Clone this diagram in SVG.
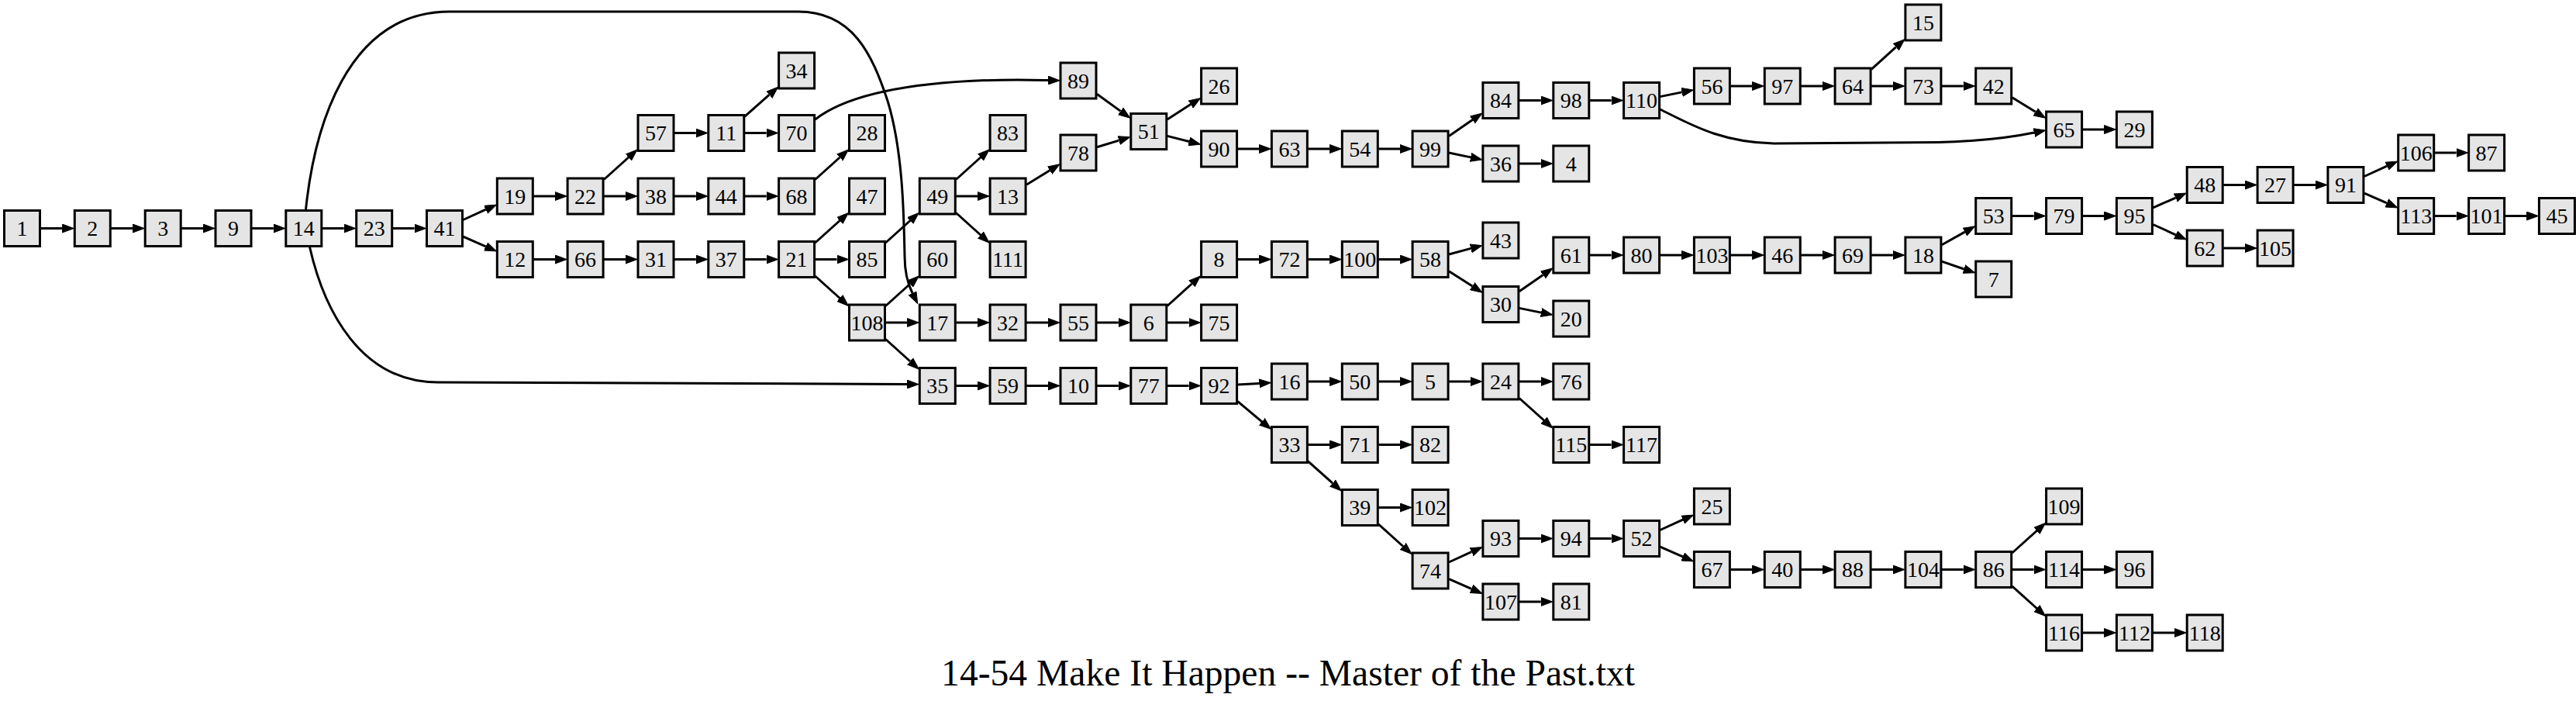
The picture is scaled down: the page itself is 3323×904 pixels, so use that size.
<svg xmlns="http://www.w3.org/2000/svg" width="3323" height="904" viewBox="0 0 3323 904">
<style>
.n rect{fill:#e5e5e5;stroke:#000;stroke-width:3}
.n text{font-family:"Liberation Serif","Times New Roman",serif;font-size:28px;text-anchor:middle;fill:#000}
#edges path{fill:none;stroke:#000;stroke-width:3;marker-end:url(#ah)}
.title{font-family:"Liberation Serif","Times New Roman",serif;font-size:47.6px;text-anchor:middle;fill:#000}
</style>
<defs>
<marker id="ah" viewBox="0 0 16 12" markerWidth="16" markerHeight="12" refX="0" refY="6" orient="auto" markerUnits="userSpaceOnUse"><path d="M0,0.5 L15,6 L0,11.5 z" fill="#000" stroke="#000" stroke-width="1"/></marker>
</defs>
<rect width="3323" height="904" fill="#fff"/>
<g id="edges">
<path d="M52.5,294.5 L80.3,294.5"/>
<path d="M143.3,294.5 L171.2,294.5"/>
<path d="M234.2,294.5 L262,294.5"/>
<path d="M325,294.5 L352.8,294.5"/>
<path d="M415.8,294.5 L443.7,294.5"/>
<path d="M506.7,294.5 L534.5,294.5"/>
<path d="M394.5,270 C405,170 445,15 580,15 L1030,15 C1100,15 1125,70 1145,130 C1165,195 1166,280 1167,330 C1167,350 1170,364 1177,378"/>
<path d="M399.5,318.5 C418,400 465,493 565,493 L1170,495.5"/>
<path d="M597.5,283.5 L626.7,270.2"/>
<path d="M597.5,305.1 L626.6,317.9"/>
<path d="M688.3,253 L716.1,253"/>
<path d="M779.1,231.5 L810.8,203"/>
<path d="M779.1,253 L807,253"/>
<path d="M870,171.5 L897.8,171.5"/>
<path d="M960.8,150.2 L992.4,122.2"/>
<path d="M960.8,171.5 L988.6,171.5"/>
<path d="M1051.6,154 C1085,128 1150,110 1250,104.5 C1300,102 1330,103 1352,103.5"/>
<path d="M870,253 L897.8,253"/>
<path d="M960.8,253 L988.6,253"/>
<path d="M1051.6,231.5 L1083.3,203"/>
<path d="M688.3,334.5 L716.1,334.5"/>
<path d="M779.1,334.5 L807,334.5"/>
<path d="M870,334.5 L897.8,334.5"/>
<path d="M960.8,334.5 L988.6,334.5"/>
<path d="M1051.6,313 L1083.3,284.5"/>
<path d="M1051.6,334.5 L1079.5,334.5"/>
<path d="M1051.6,356 L1083.3,384.5"/>
<path d="M1142.5,313 L1174.1,284.5"/>
<path d="M1233.3,231.5 L1264.9,203"/>
<path d="M1233.3,253 L1261.1,253"/>
<path d="M1233.3,274.5 L1264.9,303"/>
<path d="M1324.1,238.2 L1354.2,219.7"/>
<path d="M1415,189.7 L1443.4,181.1"/>
<path d="M1415,121.3 L1445.6,143.4"/>
<path d="M1505.8,154 L1536,134.6"/>
<path d="M1505.8,175.4 L1534,182.5"/>
<path d="M1596.6,192 L1624.4,192"/>
<path d="M1687.4,192 L1715.3,192"/>
<path d="M1778.3,192 L1806.1,192"/>
<path d="M1869.1,175.5 L1899.5,154.5"/>
<path d="M1869.1,197 L1897.2,202.9"/>
<path d="M1959.9,211 L1987.8,211"/>
<path d="M1959.9,129.5 L1987.8,129.5"/>
<path d="M2050.8,129.5 L2078.6,129.5"/>
<path d="M2141.6,124.6 L2169.7,118.9"/>
<path d="M2141.6,141 C2180,160 2220,184 2290,185 L2500,183.5 C2560,182 2600,176 2624,171"/>
<path d="M2232.4,111 L2260.3,111"/>
<path d="M2323.3,111 L2351.1,111"/>
<path d="M2414.1,89.3 L2445.8,60.7"/>
<path d="M2414.1,111 L2441.9,111"/>
<path d="M2504.9,111 L2532.7,111"/>
<path d="M2595.7,125.8 L2625.8,144.3"/>
<path d="M2686.6,167 L2714.4,167"/>
<path d="M1142.5,394.5 L1174.1,366"/>
<path d="M1142.5,416 L1170.3,416"/>
<path d="M1142.5,437.5 L1174.1,466"/>
<path d="M1233.3,416 L1261.1,416"/>
<path d="M1324.1,416 L1352,416"/>
<path d="M1415,416 L1442.8,416"/>
<path d="M1505.8,394.5 L1537.4,366"/>
<path d="M1505.8,416 L1533.6,416"/>
<path d="M1596.6,334.5 L1624.4,334.5"/>
<path d="M1687.4,334.5 L1715.3,334.5"/>
<path d="M1778.3,334.5 L1806.1,334.5"/>
<path d="M1869.1,328 L1897.4,320.4"/>
<path d="M1869.1,349.8 L1899.3,369.1"/>
<path d="M1959.9,375.7 L1990.5,354.4"/>
<path d="M1959.9,397.4 L1988.1,403.1"/>
<path d="M2050.8,329 L2078.6,329"/>
<path d="M2141.6,329 L2169.4,329"/>
<path d="M2232.4,329 L2260.3,329"/>
<path d="M2323.3,329 L2351.1,329"/>
<path d="M2414.1,329 L2441.9,329"/>
<path d="M2504.9,315.7 L2534.6,299.1"/>
<path d="M2504.9,337.2 L2533.5,347"/>
<path d="M2595.7,278.5 L2623.6,278.5"/>
<path d="M2686.6,278.5 L2714.4,278.5"/>
<path d="M2777.4,267.9 L2806.5,255.1"/>
<path d="M2777.4,289.5 L2806.6,302.8"/>
<path d="M2868.2,238.5 L2896.1,238.5"/>
<path d="M2959.1,238.5 L2986.9,238.5"/>
<path d="M3049.9,227.5 L3079.1,214.2"/>
<path d="M3049.9,249.1 L3079,261.9"/>
<path d="M3140.7,197 L3168.6,197"/>
<path d="M3140.7,278.5 L3168.6,278.5"/>
<path d="M3231.6,278.5 L3259.4,278.5"/>
<path d="M2868.2,320 L2896.1,320"/>
<path d="M1233.3,497.5 L1261.1,497.5"/>
<path d="M1324.1,497.5 L1352,497.5"/>
<path d="M1415,497.5 L1442.8,497.5"/>
<path d="M1505.8,497.5 L1533.6,497.5"/>
<path d="M1596.6,496.1 L1624.4,494.4"/>
<path d="M1596.6,517.6 L1627.9,543.8"/>
<path d="M1687.4,492 L1715.3,492"/>
<path d="M1778.3,492 L1806.1,492"/>
<path d="M1869.1,492 L1896.9,492"/>
<path d="M1959.9,492 L1987.8,492"/>
<path d="M1959.9,513.5 L1991.6,542"/>
<path d="M2050.8,573.5 L2078.6,573.5"/>
<path d="M1687.4,573.5 L1715.3,573.5"/>
<path d="M1778.3,573.5 L1806.1,573.5"/>
<path d="M1687.4,594.9 L1719.1,623.1"/>
<path d="M1778.3,654.5 L1806.1,654.5"/>
<path d="M1778.3,676 L1809.9,704.5"/>
<path d="M1869.1,725 L1898.3,711.7"/>
<path d="M1869.1,746.6 L1898.2,759.4"/>
<path d="M1959.9,694.5 L1987.8,694.5"/>
<path d="M2050.8,694.5 L2078.6,694.5"/>
<path d="M2141.6,683.5 L2170.8,670.2"/>
<path d="M2141.6,705.1 L2170.7,717.9"/>
<path d="M1959.9,776 L1987.8,776"/>
<path d="M2232.4,734.5 L2260.3,734.5"/>
<path d="M2323.3,734.5 L2351.1,734.5"/>
<path d="M2414.1,734.5 L2441.9,734.5"/>
<path d="M2504.9,734.5 L2532.7,734.5"/>
<path d="M2595.7,713 L2627.4,684.5"/>
<path d="M2595.7,734.5 L2623.6,734.5"/>
<path d="M2595.7,756 L2627.4,784.5"/>
<path d="M2686.6,734.5 L2714.4,734.5"/>
<path d="M2686.6,816 L2714.4,816"/>
<path d="M2777.4,816 L2805.2,816"/>
</g>
<g id="n1" class="n" transform="translate(28.5,294.5)"><rect x="-23" y="-23" width="46" height="46"/><text y="9.5">1</text></g>
<g id="n2" class="n" transform="translate(119.3,294.5)"><rect x="-23" y="-23" width="46" height="46"/><text y="9.5">2</text></g>
<g id="n3" class="n" transform="translate(210.2,294.5)"><rect x="-23" y="-23" width="46" height="46"/><text y="9.5">3</text></g>
<g id="n9" class="n" transform="translate(301,294.5)"><rect x="-23" y="-23" width="46" height="46"/><text y="9.5">9</text></g>
<g id="n14" class="n" transform="translate(391.8,294.5)"><rect x="-23" y="-23" width="46" height="46"/><text y="9.5">14</text></g>
<g id="n23" class="n" transform="translate(482.7,294.5)"><rect x="-23" y="-23" width="46" height="46"/><text y="9.5">23</text></g>
<g id="n41" class="n" transform="translate(573.5,294.5)"><rect x="-23" y="-23" width="46" height="46"/><text y="9.5">41</text></g>
<g id="n19" class="n" transform="translate(664.3,253)"><rect x="-23" y="-23" width="46" height="46"/><text y="9.5">19</text></g>
<g id="n12" class="n" transform="translate(664.3,334.5)"><rect x="-23" y="-23" width="46" height="46"/><text y="9.5">12</text></g>
<g id="n22" class="n" transform="translate(755.1,253)"><rect x="-23" y="-23" width="46" height="46"/><text y="9.5">22</text></g>
<g id="n66" class="n" transform="translate(755.1,334.5)"><rect x="-23" y="-23" width="46" height="46"/><text y="9.5">66</text></g>
<g id="n57" class="n" transform="translate(846,171.5)"><rect x="-23" y="-23" width="46" height="46"/><text y="9.5">57</text></g>
<g id="n38" class="n" transform="translate(846,253)"><rect x="-23" y="-23" width="46" height="46"/><text y="9.5">38</text></g>
<g id="n31" class="n" transform="translate(846,334.5)"><rect x="-23" y="-23" width="46" height="46"/><text y="9.5">31</text></g>
<g id="n11" class="n" transform="translate(936.8,171.5)"><rect x="-23" y="-23" width="46" height="46"/><text y="9.5">11</text></g>
<g id="n44" class="n" transform="translate(936.8,253)"><rect x="-23" y="-23" width="46" height="46"/><text y="9.5">44</text></g>
<g id="n37" class="n" transform="translate(936.8,334.5)"><rect x="-23" y="-23" width="46" height="46"/><text y="9.5">37</text></g>
<g id="n34" class="n" transform="translate(1027.6,91)"><rect x="-23" y="-23" width="46" height="46"/><text y="9.5">34</text></g>
<g id="n70" class="n" transform="translate(1027.6,171.5)"><rect x="-23" y="-23" width="46" height="46"/><text y="9.5">70</text></g>
<g id="n68" class="n" transform="translate(1027.6,253)"><rect x="-23" y="-23" width="46" height="46"/><text y="9.5">68</text></g>
<g id="n21" class="n" transform="translate(1027.6,334.5)"><rect x="-23" y="-23" width="46" height="46"/><text y="9.5">21</text></g>
<g id="n28" class="n" transform="translate(1118.5,171.5)"><rect x="-23" y="-23" width="46" height="46"/><text y="9.5">28</text></g>
<g id="n47" class="n" transform="translate(1118.5,253)"><rect x="-23" y="-23" width="46" height="46"/><text y="9.5">47</text></g>
<g id="n85" class="n" transform="translate(1118.5,334.5)"><rect x="-23" y="-23" width="46" height="46"/><text y="9.5">85</text></g>
<g id="n108" class="n" transform="translate(1118.5,416)"><rect x="-23" y="-23" width="46" height="46"/><text y="9.5">108</text></g>
<g id="n49" class="n" transform="translate(1209.3,253)"><rect x="-23" y="-23" width="46" height="46"/><text y="9.5">49</text></g>
<g id="n60" class="n" transform="translate(1209.3,334.5)"><rect x="-23" y="-23" width="46" height="46"/><text y="9.5">60</text></g>
<g id="n17" class="n" transform="translate(1209.3,416)"><rect x="-23" y="-23" width="46" height="46"/><text y="9.5">17</text></g>
<g id="n35" class="n" transform="translate(1209.3,497.5)"><rect x="-23" y="-23" width="46" height="46"/><text y="9.5">35</text></g>
<g id="n83" class="n" transform="translate(1300.1,171.5)"><rect x="-23" y="-23" width="46" height="46"/><text y="9.5">83</text></g>
<g id="n13" class="n" transform="translate(1300.1,253)"><rect x="-23" y="-23" width="46" height="46"/><text y="9.5">13</text></g>
<g id="n111" class="n" transform="translate(1300.1,334.5)"><rect x="-23" y="-23" width="46" height="46"/><text y="9.5">111</text></g>
<g id="n32" class="n" transform="translate(1300.1,416)"><rect x="-23" y="-23" width="46" height="46"/><text y="9.5">32</text></g>
<g id="n59" class="n" transform="translate(1300.1,497.5)"><rect x="-23" y="-23" width="46" height="46"/><text y="9.5">59</text></g>
<g id="n89" class="n" transform="translate(1391,104)"><rect x="-23" y="-23" width="46" height="46"/><text y="9.5">89</text></g>
<g id="n78" class="n" transform="translate(1391,197)"><rect x="-23" y="-23" width="46" height="46"/><text y="9.5">78</text></g>
<g id="n55" class="n" transform="translate(1391,416)"><rect x="-23" y="-23" width="46" height="46"/><text y="9.5">55</text></g>
<g id="n10" class="n" transform="translate(1391,497.5)"><rect x="-23" y="-23" width="46" height="46"/><text y="9.5">10</text></g>
<g id="n51" class="n" transform="translate(1481.8,169.5)"><rect x="-23" y="-23" width="46" height="46"/><text y="9.5">51</text></g>
<g id="n6" class="n" transform="translate(1481.8,416)"><rect x="-23" y="-23" width="46" height="46"/><text y="9.5">6</text></g>
<g id="n77" class="n" transform="translate(1481.8,497.5)"><rect x="-23" y="-23" width="46" height="46"/><text y="9.5">77</text></g>
<g id="n26" class="n" transform="translate(1572.6,111)"><rect x="-23" y="-23" width="46" height="46"/><text y="9.5">26</text></g>
<g id="n90" class="n" transform="translate(1572.6,192)"><rect x="-23" y="-23" width="46" height="46"/><text y="9.5">90</text></g>
<g id="n8" class="n" transform="translate(1572.6,334.5)"><rect x="-23" y="-23" width="46" height="46"/><text y="9.5">8</text></g>
<g id="n75" class="n" transform="translate(1572.6,416)"><rect x="-23" y="-23" width="46" height="46"/><text y="9.5">75</text></g>
<g id="n92" class="n" transform="translate(1572.6,497.5)"><rect x="-23" y="-23" width="46" height="46"/><text y="9.5">92</text></g>
<g id="n63" class="n" transform="translate(1663.4,192)"><rect x="-23" y="-23" width="46" height="46"/><text y="9.5">63</text></g>
<g id="n72" class="n" transform="translate(1663.4,334.5)"><rect x="-23" y="-23" width="46" height="46"/><text y="9.5">72</text></g>
<g id="n16" class="n" transform="translate(1663.4,492)"><rect x="-23" y="-23" width="46" height="46"/><text y="9.5">16</text></g>
<g id="n33" class="n" transform="translate(1663.4,573.5)"><rect x="-23" y="-23" width="46" height="46"/><text y="9.5">33</text></g>
<g id="n54" class="n" transform="translate(1754.3,192)"><rect x="-23" y="-23" width="46" height="46"/><text y="9.5">54</text></g>
<g id="n100" class="n" transform="translate(1754.3,334.5)"><rect x="-23" y="-23" width="46" height="46"/><text y="9.5">100</text></g>
<g id="n50" class="n" transform="translate(1754.3,492)"><rect x="-23" y="-23" width="46" height="46"/><text y="9.5">50</text></g>
<g id="n71" class="n" transform="translate(1754.3,573.5)"><rect x="-23" y="-23" width="46" height="46"/><text y="9.5">71</text></g>
<g id="n39" class="n" transform="translate(1754.3,654.5)"><rect x="-23" y="-23" width="46" height="46"/><text y="9.5">39</text></g>
<g id="n99" class="n" transform="translate(1845.1,192)"><rect x="-23" y="-23" width="46" height="46"/><text y="9.5">99</text></g>
<g id="n58" class="n" transform="translate(1845.1,334.5)"><rect x="-23" y="-23" width="46" height="46"/><text y="9.5">58</text></g>
<g id="n5" class="n" transform="translate(1845.1,492)"><rect x="-23" y="-23" width="46" height="46"/><text y="9.5">5</text></g>
<g id="n82" class="n" transform="translate(1845.1,573.5)"><rect x="-23" y="-23" width="46" height="46"/><text y="9.5">82</text></g>
<g id="n102" class="n" transform="translate(1845.1,654.5)"><rect x="-23" y="-23" width="46" height="46"/><text y="9.5">102</text></g>
<g id="n74" class="n" transform="translate(1845.1,736)"><rect x="-23" y="-23" width="46" height="46"/><text y="9.5">74</text></g>
<g id="n84" class="n" transform="translate(1935.9,129.5)"><rect x="-23" y="-23" width="46" height="46"/><text y="9.5">84</text></g>
<g id="n36" class="n" transform="translate(1935.9,211)"><rect x="-23" y="-23" width="46" height="46"/><text y="9.5">36</text></g>
<g id="n43" class="n" transform="translate(1935.9,310)"><rect x="-23" y="-23" width="46" height="46"/><text y="9.5">43</text></g>
<g id="n30" class="n" transform="translate(1935.9,392.5)"><rect x="-23" y="-23" width="46" height="46"/><text y="9.5">30</text></g>
<g id="n24" class="n" transform="translate(1935.9,492)"><rect x="-23" y="-23" width="46" height="46"/><text y="9.5">24</text></g>
<g id="n93" class="n" transform="translate(1935.9,694.5)"><rect x="-23" y="-23" width="46" height="46"/><text y="9.5">93</text></g>
<g id="n107" class="n" transform="translate(1935.9,776)"><rect x="-23" y="-23" width="46" height="46"/><text y="9.5">107</text></g>
<g id="n98" class="n" transform="translate(2026.8,129.5)"><rect x="-23" y="-23" width="46" height="46"/><text y="9.5">98</text></g>
<g id="n4" class="n" transform="translate(2026.8,211)"><rect x="-23" y="-23" width="46" height="46"/><text y="9.5">4</text></g>
<g id="n61" class="n" transform="translate(2026.8,329)"><rect x="-23" y="-23" width="46" height="46"/><text y="9.5">61</text></g>
<g id="n20" class="n" transform="translate(2026.8,411)"><rect x="-23" y="-23" width="46" height="46"/><text y="9.5">20</text></g>
<g id="n76" class="n" transform="translate(2026.8,492)"><rect x="-23" y="-23" width="46" height="46"/><text y="9.5">76</text></g>
<g id="n115" class="n" transform="translate(2026.8,573.5)"><rect x="-23" y="-23" width="46" height="46"/><text y="9.5">115</text></g>
<g id="n94" class="n" transform="translate(2026.8,694.5)"><rect x="-23" y="-23" width="46" height="46"/><text y="9.5">94</text></g>
<g id="n81" class="n" transform="translate(2026.8,776)"><rect x="-23" y="-23" width="46" height="46"/><text y="9.5">81</text></g>
<g id="n110" class="n" transform="translate(2117.6,129.5)"><rect x="-23" y="-23" width="46" height="46"/><text y="9.5">110</text></g>
<g id="n80" class="n" transform="translate(2117.6,329)"><rect x="-23" y="-23" width="46" height="46"/><text y="9.5">80</text></g>
<g id="n117" class="n" transform="translate(2117.6,573.5)"><rect x="-23" y="-23" width="46" height="46"/><text y="9.5">117</text></g>
<g id="n52" class="n" transform="translate(2117.6,694.5)"><rect x="-23" y="-23" width="46" height="46"/><text y="9.5">52</text></g>
<g id="n56" class="n" transform="translate(2208.4,111)"><rect x="-23" y="-23" width="46" height="46"/><text y="9.5">56</text></g>
<g id="n103" class="n" transform="translate(2208.4,329)"><rect x="-23" y="-23" width="46" height="46"/><text y="9.5">103</text></g>
<g id="n25" class="n" transform="translate(2208.4,653)"><rect x="-23" y="-23" width="46" height="46"/><text y="9.5">25</text></g>
<g id="n67" class="n" transform="translate(2208.4,734.5)"><rect x="-23" y="-23" width="46" height="46"/><text y="9.5">67</text></g>
<g id="n97" class="n" transform="translate(2299.3,111)"><rect x="-23" y="-23" width="46" height="46"/><text y="9.5">97</text></g>
<g id="n46" class="n" transform="translate(2299.3,329)"><rect x="-23" y="-23" width="46" height="46"/><text y="9.5">46</text></g>
<g id="n40" class="n" transform="translate(2299.3,734.5)"><rect x="-23" y="-23" width="46" height="46"/><text y="9.5">40</text></g>
<g id="n64" class="n" transform="translate(2390.1,111)"><rect x="-23" y="-23" width="46" height="46"/><text y="9.5">64</text></g>
<g id="n69" class="n" transform="translate(2390.1,329)"><rect x="-23" y="-23" width="46" height="46"/><text y="9.5">69</text></g>
<g id="n88" class="n" transform="translate(2390.1,734.5)"><rect x="-23" y="-23" width="46" height="46"/><text y="9.5">88</text></g>
<g id="n15" class="n" transform="translate(2480.9,29)"><rect x="-23" y="-23" width="46" height="46"/><text y="9.5">15</text></g>
<g id="n73" class="n" transform="translate(2480.9,111)"><rect x="-23" y="-23" width="46" height="46"/><text y="9.5">73</text></g>
<g id="n18" class="n" transform="translate(2480.9,329)"><rect x="-23" y="-23" width="46" height="46"/><text y="9.5">18</text></g>
<g id="n104" class="n" transform="translate(2480.9,734.5)"><rect x="-23" y="-23" width="46" height="46"/><text y="9.5">104</text></g>
<g id="n42" class="n" transform="translate(2571.7,111)"><rect x="-23" y="-23" width="46" height="46"/><text y="9.5">42</text></g>
<g id="n53" class="n" transform="translate(2571.7,278.5)"><rect x="-23" y="-23" width="46" height="46"/><text y="9.5">53</text></g>
<g id="n7" class="n" transform="translate(2571.7,360)"><rect x="-23" y="-23" width="46" height="46"/><text y="9.5">7</text></g>
<g id="n86" class="n" transform="translate(2571.7,734.5)"><rect x="-23" y="-23" width="46" height="46"/><text y="9.5">86</text></g>
<g id="n65" class="n" transform="translate(2662.6,167)"><rect x="-23" y="-23" width="46" height="46"/><text y="9.5">65</text></g>
<g id="n79" class="n" transform="translate(2662.6,278.5)"><rect x="-23" y="-23" width="46" height="46"/><text y="9.5">79</text></g>
<g id="n109" class="n" transform="translate(2662.6,653)"><rect x="-23" y="-23" width="46" height="46"/><text y="9.5">109</text></g>
<g id="n114" class="n" transform="translate(2662.6,734.5)"><rect x="-23" y="-23" width="46" height="46"/><text y="9.5">114</text></g>
<g id="n116" class="n" transform="translate(2662.6,816)"><rect x="-23" y="-23" width="46" height="46"/><text y="9.5">116</text></g>
<g id="n29" class="n" transform="translate(2753.4,167)"><rect x="-23" y="-23" width="46" height="46"/><text y="9.5">29</text></g>
<g id="n95" class="n" transform="translate(2753.4,278.5)"><rect x="-23" y="-23" width="46" height="46"/><text y="9.5">95</text></g>
<g id="n96" class="n" transform="translate(2753.4,734.5)"><rect x="-23" y="-23" width="46" height="46"/><text y="9.5">96</text></g>
<g id="n112" class="n" transform="translate(2753.4,816)"><rect x="-23" y="-23" width="46" height="46"/><text y="9.5">112</text></g>
<g id="n48" class="n" transform="translate(2844.2,238.5)"><rect x="-23" y="-23" width="46" height="46"/><text y="9.5">48</text></g>
<g id="n62" class="n" transform="translate(2844.2,320)"><rect x="-23" y="-23" width="46" height="46"/><text y="9.5">62</text></g>
<g id="n118" class="n" transform="translate(2844.2,816)"><rect x="-23" y="-23" width="46" height="46"/><text y="9.5">118</text></g>
<g id="n27" class="n" transform="translate(2935.1,238.5)"><rect x="-23" y="-23" width="46" height="46"/><text y="9.5">27</text></g>
<g id="n105" class="n" transform="translate(2935.1,320)"><rect x="-23" y="-23" width="46" height="46"/><text y="9.5">105</text></g>
<g id="n91" class="n" transform="translate(3025.9,238.5)"><rect x="-23" y="-23" width="46" height="46"/><text y="9.5">91</text></g>
<g id="n106" class="n" transform="translate(3116.7,197)"><rect x="-23" y="-23" width="46" height="46"/><text y="9.5">106</text></g>
<g id="n113" class="n" transform="translate(3116.7,278.5)"><rect x="-23" y="-23" width="46" height="46"/><text y="9.5">113</text></g>
<g id="n87" class="n" transform="translate(3207.6,197)"><rect x="-23" y="-23" width="46" height="46"/><text y="9.5">87</text></g>
<g id="n101" class="n" transform="translate(3207.6,278.5)"><rect x="-23" y="-23" width="46" height="46"/><text y="9.5">101</text></g>
<g id="n45" class="n" transform="translate(3298.4,278.5)"><rect x="-23" y="-23" width="46" height="46"/><text y="9.5">45</text></g>
<text id="title" class="title" x="1661.5" y="884">14-54 Make It Happen -- Master of the Past.txt</text>
</svg>
